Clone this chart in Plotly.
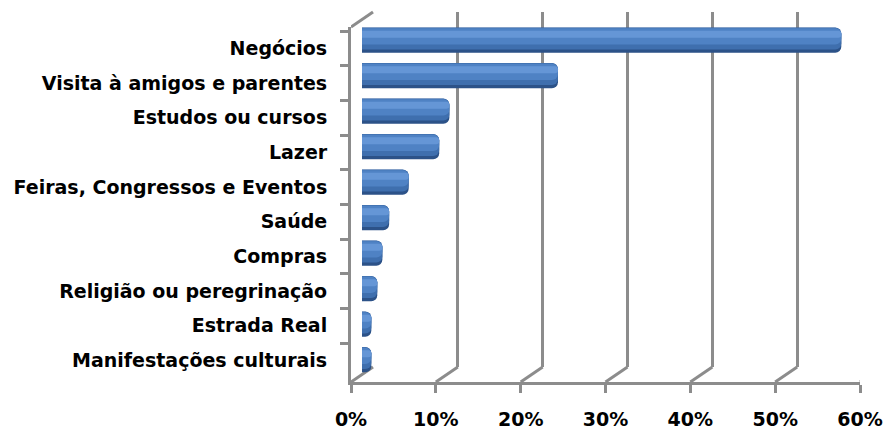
import plotly.graph_objects as go

# Travel motive shares (percent of respondents)
motivos = [
    "Negócios",
    "Visita à amigos e parentes",
    "Estudos ou cursos",
    "Lazer",
    "Feiras, Congressos e Eventos",
    "Saúde",
    "Compras",
    "Religião ou peregrinação",
    "Estrada Real",
    "Manifestações culturais",
]
percentuais = [56.5, 23.1, 10.3, 9.1, 5.5, 3.2, 2.4, 1.8, 1.1, 1.1]
x_ticks = [0, 10, 20, 30, 40, 50, 60]
x_tick_text = ["0%", "10%", "20%", "30%", "40%", "50%", "60%"]

W, H = 885, 432
# front plane of the pseudo-3D box, in pixels
FX0, FX1 = 351, 860
FY_TOP, FY_BOT = 27, 382
# depth offset of the back wall
DX, DY = 22, 15

def xdom(dx):
    return [(FX0 + dx) / W, (FX1 + dx) / W]

def ydom(dy):
    return [(H - FY_BOT + dy) / H, (H - FY_TOP + dy) / H]

GRID = "#8c8c8c"
LABEL_FONT = dict(size=19, family="DejaVu Sans", weight="bold", color="black")
fig = go.Figure()

# front axes carry the category labels and the percent scale
fig.add_trace(go.Scatter(
    x=percentuais, y=motivos, mode="markers", marker=dict(opacity=0),
    hoverinfo="skip", showlegend=False, xaxis="x", yaxis="y"))

# back wall with its vertical gridlines
fig.add_trace(go.Scatter(
    x=percentuais, y=motivos, mode="markers", marker=dict(opacity=0),
    hoverinfo="skip", showlegend=False, xaxis="x2", yaxis="y2"))

# cylinder-like bars, drawn half-way into the depth, built from overlaid layers
layers = [
    dict(color="#2c5288", width=0.70, offset=-0.265),
    dict(color="#3f6fae", width=0.62, offset=-0.275),
    dict(color="#4f82c4", width=0.46, offset=-0.255),
    dict(color="#6596d6", width=0.20, offset=-0.185),
]
for lay in layers:
    fig.add_trace(go.Bar(
        x=percentuais, y=motivos, orientation="h",
        width=lay["width"], offset=lay["offset"],
        marker=dict(color=lay["color"], line=dict(width=0)),
        hoverinfo="skip", showlegend=False, xaxis="x3", yaxis="y3"))

axis_common = dict(range=[0, 60], fixedrange=True, automargin=False)
cat_common = dict(type="category", categoryorder="array", categoryarray=motivos,
                  autorange="reversed", fixedrange=True, automargin=False)

fig.update_layout(
    width=W, height=H,
    margin=dict(l=0, r=0, t=0, b=0, autoexpand=False),
    paper_bgcolor="white", plot_bgcolor="rgba(0,0,0,0)",
    barmode="overlay", barcornerradius=6,
    font=dict(family="DejaVu Sans", color="black"),
    xaxis=dict(**axis_common, domain=xdom(0), anchor="y",
               tickvals=x_ticks, ticktext=x_tick_text,
               showgrid=False, zeroline=False,
               showline=True, linecolor=GRID, linewidth=3,
               ticks="outside", ticklen=8, tickwidth=3, tickcolor=GRID,
               ticklabelstandoff=10, tickfont=LABEL_FONT),
    yaxis=dict(**cat_common, domain=ydom(0), anchor="x",
               showgrid=False, zeroline=False,
               showline=True, linecolor=GRID, linewidth=3,
               ticks="outside", ticklen=8, tickwidth=3, tickcolor=GRID,
               tickson="boundaries", ticklabelstandoff=17,
               tickfont=LABEL_FONT),
    xaxis2=dict(**axis_common, domain=xdom(DX), anchor="y2",
                tickvals=x_ticks, showticklabels=False,
                showgrid=True, gridcolor=GRID, gridwidth=3, zeroline=False),
    yaxis2=dict(**cat_common, domain=ydom(DY), anchor="x2",
                showgrid=False, showticklabels=False, zeroline=False),
    xaxis3=dict(**axis_common, domain=xdom(DX / 2), anchor="y3", visible=False),
    yaxis3=dict(**cat_common, domain=ydom(DY / 2), anchor="x3", visible=False),
)

# floor edges joining each front tick to its back-wall gridline
for v in x_ticks:
    fig.add_shape(type="line", xref="x", yref="paper",
                  xsizemode="pixel", xanchor=v, x0=0, x1=DX,
                  ysizemode="pixel", yanchor=ydom(0)[0], y0=0, y1=DY,
                  line=dict(color=GRID, width=3), layer="below")
# top edge of the left wall
fig.add_shape(type="line", xref="x", yref="paper",
              xsizemode="pixel", xanchor=0, x0=0, x1=DX,
              ysizemode="pixel", yanchor=ydom(0)[1], y0=0, y1=DY,
              line=dict(color=GRID, width=3), layer="below")

fig.write_html("out.html")
